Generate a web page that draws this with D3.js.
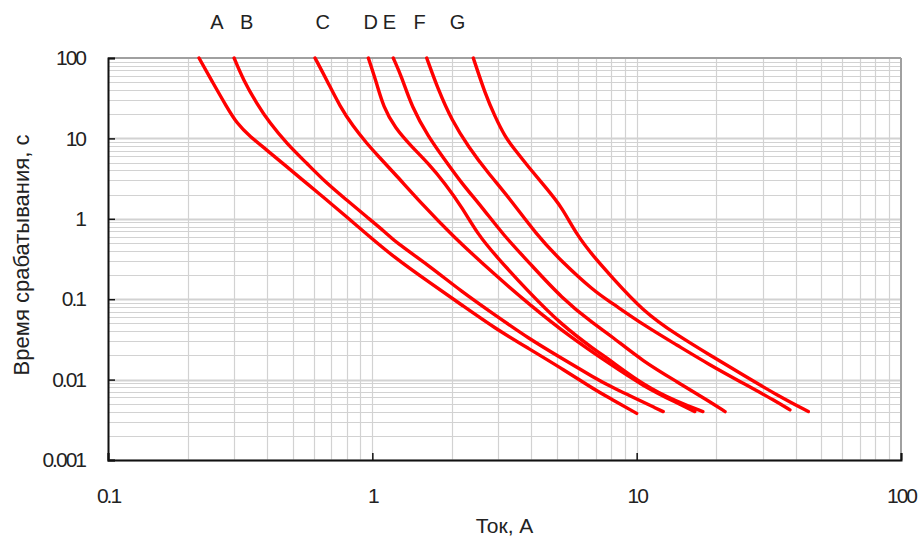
<!DOCTYPE html>
<html><head><meta charset="utf-8">
<script src="https://cdn.jsdelivr.net/npm/d3@7"></script>
<style>
html,body{margin:0;padding:0;background:#fff;}
text{font-family:"Liberation Sans",Arial,sans-serif;fill:#222;}
</style></head>
<body><svg id="c" width="919" height="537"></svg>
<script>
// ---- data ----
const curveNames = ["A","B","C","D","E","F","G"];
const labelX = [0.258, 0.335, 0.649, 0.986, 1.16, 1.51, 2.10];
const xTicks = [0.1, 1, 10, 100];
const xTickLabels = ["0.1","1","10","100"];
const yTicks = [0.001, 0.01, 0.1, 1, 10, 100];
const yTickLabels = ["0.001","0.01","0.1","1","10","100"];

const curveA_I = [0.221,0.250,0.281,0.307,0.345,0.399,0.474,0.565,0.672,0.800,0.912,1.22,1.63,2.18,2.91,3.89,5.20,6.96,7.93,10.0];
const curveA_t = [100,48.4,24.8,15.4,10.5,7.17,4.45,2.76,1.71,1.06,0.726,0.323,0.165,0.0847,0.0435,0.0245,0.0138,0.00743,0.00585,0.0038];
const curveB_I = [0.300,0.325,0.365,0.410,0.474,0.565,0.672,0.800,0.952,1.133,1.218,1.628,2.178,2.912,3.892,5.204,6.96,7.93,12.6];
const curveB_t = [100,53.3,27.3,15.4,8.69,4.90,2.76,1.71,1.06,0.660,0.519,0.266,0.124,0.0636,0.0326,0.0184,0.0104,0.0082,0.0040];
const curveC_I = [0.607,0.672,0.755,0.847,0.952,1.069,1.218,1.555,1.996,2.912,3.95,5.60,7.93,10.57,14.2,16.6];
const curveC_t = [100,53.3,24.8,14.0,8.69,5.70,3.61,1.48,0.629,0.200,0.0847,0.0339,0.0156,0.00833,0.00512,0.0040];
const curveD_I = [0.966,1.039,1.100,1.218,1.409,1.628,1.883,2.178,2.517,2.912,3.892,5.204,6.96,7.93,10.6,14.2,17.8];
const curveD_t = [100,48.4,24.8,13.5,7.89,4.90,2.76,1.41,0.629,0.355,0.124,0.0478,0.0233,0.0175,0.00856,0.00531,0.0040];
const curveE_I = [1.20,1.291,1.409,1.628,1.883,2.178,2.593,3.13,3.892,5.204,6.96,7.93,10.6,14.2,18.9,21.6];
const curveE_t = [100,58.5,24.8,10.5,5.39,2.76,1.41,0.629,0.293,0.1026,0.0478,0.0359,0.0167,0.00942,0.00531,0.0040];
const curveF_I = [1.606,1.777,1.996,2.307,2.746,3.27,4.19,5.204,6.96,7.93,10.6,14.2,18.9,25.3,33.9,38.0];
const curveF_t = [100,40.0,16.9,7.89,3.68,1.88,0.629,0.293,0.123,0.0931,0.0478,0.0269,0.0152,0.0090,0.00531,0.0042];
const curveG_I = [2.41,2.668,2.912,3.176,3.465,3.892,4.50,5.204,5.93,6.96,7.93,10.6,14.2,18.9,25.3,33.9,44.6];
const curveG_t = [100,36.4,18.6,10.5,7.17,4.45,2.51,1.41,0.629,0.323,0.200,0.0699,0.0359,0.0202,0.0114,0.00643,0.0040];

const xTitle = "Ток, А";
const yTitle = "Время срабатывания, с";

// ---- chart ----
const series = [
  [curveA_I, curveA_t],[curveB_I, curveB_t],[curveC_I, curveC_t],[curveD_I, curveD_t],
  [curveE_I, curveE_t],[curveF_I, curveF_t],[curveG_I, curveG_t]
].map(([I,t]) => I.map((v,i)=>({x:v,y:t[i]})));

const svg = d3.select("#c");
const L=108, R=901, T=58, B=460;
const x = d3.scaleLog().domain([0.1,100]).range([L,R]);
const y = d3.scaleLog().domain([0.001,100]).range([B,T]);

const grid = svg.append("g");
const xMinor=[], yMinor=[];
for (let d=0.1; d<100; d*=10) for (let k=1;k<=9;k++){ xMinor.push(+(d*k).toPrecision(3)); }
for (let d=0.001; d<100; d*=10) for (let k=1;k<=9;k++){ yMinor.push(+(d*k).toPrecision(3)); }
grid.selectAll(".vx").data(xMinor).join("line")
  .attr("x1",d=>Math.round(x(d))+0.5).attr("x2",d=>Math.round(x(d))+0.5)
  .attr("y1",T).attr("y2",B).attr("stroke","#d2d2d2").attr("stroke-width",1.2);
grid.selectAll(".hy").data(yMinor).join("line")
  .attr("y1",d=>Math.round(y(d))+0.5).attr("y2",d=>Math.round(y(d))+0.5)
  .attr("x1",L).attr("x2",R).attr("stroke","#d2d2d2")
  .attr("stroke-width",d=>yTicks.includes(d)?2.2:1.2);

svg.append("line").attr("x1",L).attr("x2",R).attr("y1",T).attr("y2",T).attr("stroke","#a0a0a0").attr("stroke-width",2);
svg.append("line").attr("x1",R).attr("x2",R).attr("y1",T).attr("y2",B).attr("stroke","#a0a0a0").attr("stroke-width",2);

const line = d3.line().x(d=>x(d.x)).y(d=>y(d.y)).curve(d3.curveBasis);
svg.append("g").selectAll("path").data(series).join("path")
  .attr("d",line).attr("fill","none").attr("stroke","#ff0000")
  .attr("stroke-width",3.4).attr("stroke-linejoin","round").attr("stroke-linecap","round");

const yAxis = d3.axisLeft(y).tickValues(yTicks).tickSize(-7).tickFormat((d,i)=>yTickLabels[i]).tickPadding(23);
const xAxis = d3.axisBottom(x).tickValues(xTicks).tickSize(-7).tickFormat((d,i)=>xTickLabels[i]).tickPadding(28);
const gy = svg.append("g").attr("transform",`translate(${L},0)`).call(yAxis);
const gx = svg.append("g").attr("transform",`translate(0,${B})`).call(xAxis);
[gx,gy].forEach(g=>{
  g.select(".domain").attr("stroke","#111").attr("stroke-width",2);
  g.selectAll(".tick line").attr("stroke","#111").attr("stroke-width",1.5);
  g.selectAll(".tick text").attr("font-size",21).attr("fill","#222")
    .attr("font-family","'Liberation Sans',Arial,sans-serif").attr("letter-spacing","-2px");
});

svg.append("g").selectAll("text").data(curveNames).join("text")
  .attr("x",(d,i)=>x(labelX[i])).attr("y",29).attr("text-anchor","middle")
  .attr("font-size",20).text(d=>d);

svg.append("text").attr("x",(L+R)/2).attr("y",533).attr("text-anchor","middle")
  .attr("font-size",21).text(xTitle);
svg.append("text").attr("transform",`translate(29,${(T+B)/2-4}) rotate(-90)`)
  .attr("text-anchor","middle").attr("font-size",22).text(yTitle);
</script></body></html>
